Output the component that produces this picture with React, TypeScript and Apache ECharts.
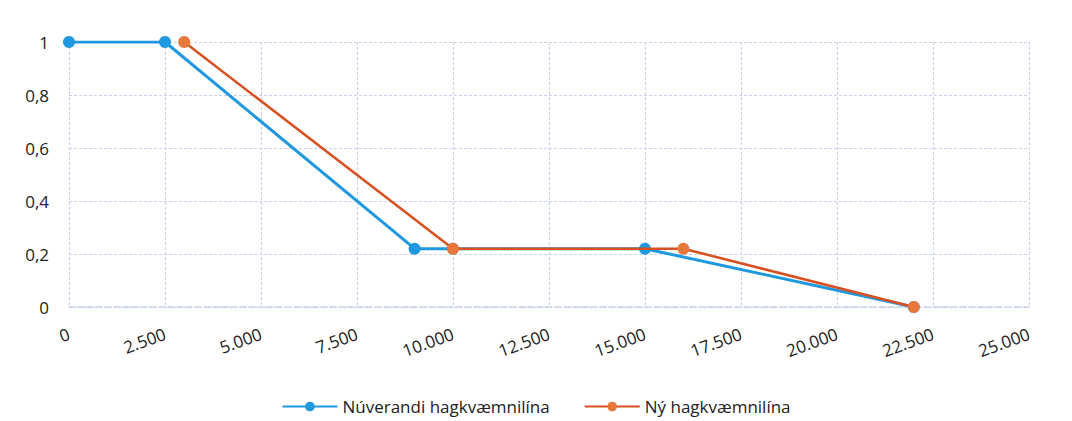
import React, { useEffect, useRef } from "react";
import * as echarts from "echarts";

const seriesNames = ["Núverandi hagkvæmnilína", "Ný hagkvæmnilína"];
const currentX = [0, 2500, 9000, 10000, 15000, 22000];
const currentY = [1, 1, 0.22, 0.22, 0.22, 0];
const newX = [3000, 10000, 16000, 22000];
const newY = [1, 0.22, 0.22, 0];

const fmtX = (v: number) =>
  v === 0 ? "0" : String(v).replace(/\B(?=(\d{3})+(?!\d))/g, ".");
const fmtY = (v: number) => String(Math.round(v * 10) / 10).replace(".", ",");

export default function App() {
  const ref = useRef<HTMLDivElement>(null);
  useEffect(() => {
    if (!ref.current) return;
    const chart = echarts.init(ref.current, undefined, { renderer: "svg" });
    const font = "'Open Sans', 'Liberation Sans', sans-serif";
    const gridColor = "#c9d2ea";
    chart.setOption({
      animation: false,
      backgroundColor: "#ffffff",
      grid: { left: 69, right: 43, top: 42, bottom: 114, containLabel: false },
      xAxis: {
        type: "value",
        min: 0,
        max: 25000,
        interval: 2500,
        axisLine: { show: true, lineStyle: { color: gridColor, width: 1.5, type: "dashed" } },
        axisTick: { show: false },
        splitLine: { show: true, lineStyle: { color: gridColor, width: 1.2, type: [3, 2] } },
        axisLabel: {
          rotate: 20,
          formatter: fmtX,
          color: "#222",
          fontSize: 17,
          fontFamily: font,
          margin: 26,
        },
      },
      yAxis: {
        type: "value",
        min: 0,
        max: 1,
        interval: 0.2,
        axisLine: { show: false },
        axisTick: { show: false },
        splitLine: { show: true, lineStyle: { color: gridColor, width: 1.2, type: [3, 2] } },
        axisLabel: {
          formatter: fmtY,
          color: "#222",
          fontSize: 17,
          fontFamily: font,
          margin: 20,
        },
      },
      legend: {
        bottom: 1,
        left: "center",
        itemWidth: 55,
        itemHeight: 12,
        itemGap: 34,
        textStyle: { color: "#222", fontSize: 17, fontFamily: font },
        data: seriesNames,
      },
      series: [
        {
          name: seriesNames[0],
          type: "line",
          data: currentX.map((x, i) => [x, currentY[i]]),
          symbol: "circle",
          symbolSize: 12,
          lineStyle: { color: "#1f98e0", width: 3 },
          itemStyle: { color: "#1f98e0" },
          z: 2,
        },
        {
          name: seriesNames[1],
          type: "line",
          data: newX.map((x, i) => [x, newY[i]]),
          symbol: "circle",
          symbolSize: 12,
          lineStyle: { color: "#d8501f", width: 2.5 },
          itemStyle: { color: "#e8783a" },
          z: 3,
        },
      ],
    });
    return () => chart.dispose();
  }, []);
  return (
    <div
      ref={ref}
      style={{ position: "fixed", left: 0, top: 0, width: 1072, height: 421 }}
    />
  );
}
